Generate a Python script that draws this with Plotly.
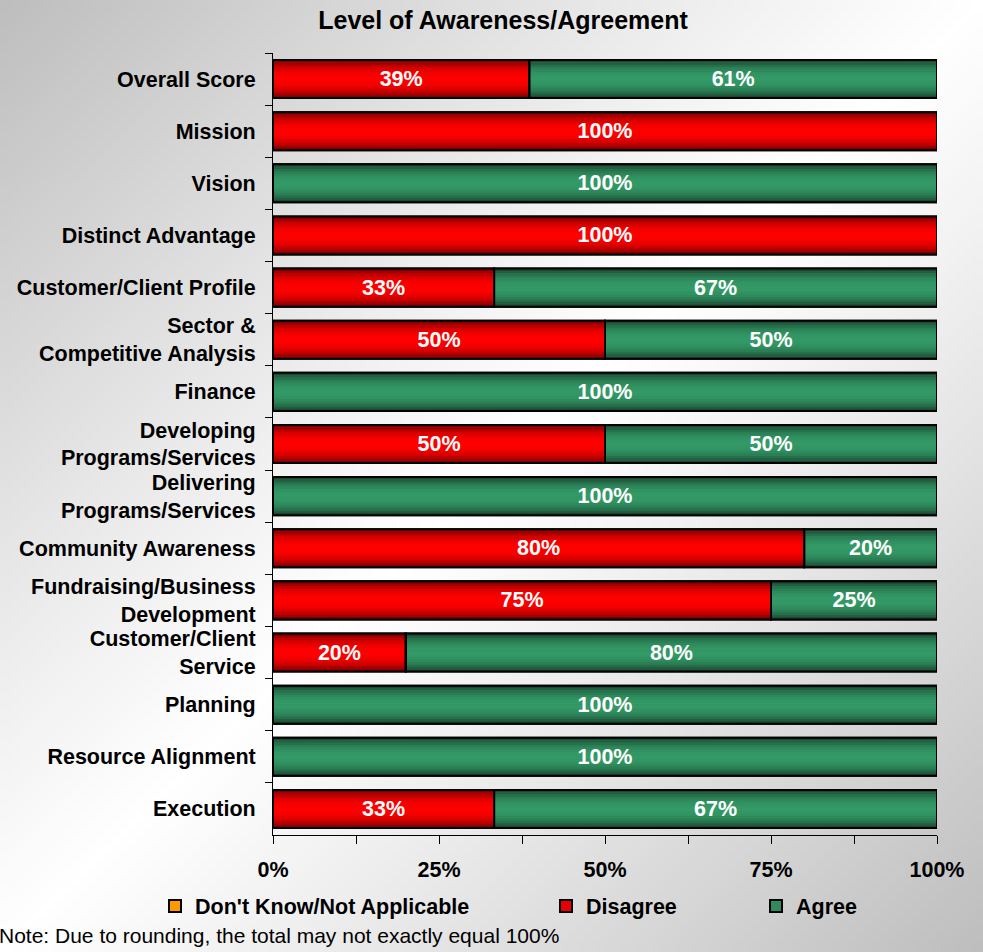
import base64, struct, zlib
import plotly.graph_objects as go

# ---------------- data ----------------
categories = [
    "Overall Score", "Mission", "Vision", "Distinct Advantage",
    "Customer/Client Profile", "Sector &<br>Competitive Analysis", "Finance",
    "Developing<br>Programs/Services", "Delivering<br>Programs/Services",
    "Community Awareness", "Fundraising/Business<br>Development",
    "Customer/Client<br>Service", "Planning", "Resource Alignment", "Execution",
]
dont_know = [0] * 15
disagree = [38.6, 100, 0, 100, 33.3, 50, 0, 50, 0, 80, 75, 20, 0, 0, 33.3]
agree = [61.4, 0, 100, 0, 66.7, 50, 100, 50, 100, 20, 25, 80, 100, 100, 66.7]
x_tick_vals = [0, 12.5, 25, 37.5, 50, 62.5, 75, 87.5, 100]
x_tick_text = ["0%", "", "25%", "", "50%", "", "75%", "", "100%"]

FONT = "Liberation Sans, Arial, sans-serif"
FS = 21.5
W, H = 983, 952
ML, MR, MT, MB = 273, 46, 53, 117
PW, PH = W - ML - MR, H - MT - MB


# ---------------- background gradient image ----------------
def gradient_png(n=120, dark=190):
    rows = []
    for j in range(n):
        row = bytearray([0])
        for i in range(n):
            t = (i / (n - 1) + j / (n - 1)) / 2
            d = abs(2 * t - 1)
            v = int(round(255 - (255 - dark) * d ** 1.1))
            row.append(v)
        rows.append(bytes(row))
    raw = b"".join(rows)

    def chunk(tag, data):
        c = struct.pack(">I", len(data)) + tag + data
        return c + struct.pack(">I", zlib.crc32(tag + data) & 0xFFFFFFFF)

    png = b"\x89PNG\r\n\x1a\n" + chunk(b"IHDR", struct.pack(">IIBBBBB", n, n, 8, 0, 0, 0, 0)) \
        + chunk(b"IDAT", zlib.compress(raw, 9)) + chunk(b"IEND", b"")
    return "data:image/png;base64," + base64.b64encode(png).decode()


fig = go.Figure()

BAR_W = 0.73
N_BANDS = 16


def lerp(c1, c2, f):
    return "rgb(%d,%d,%d)" % tuple(round(a + (b - a) * f) for a, b in zip(c1, c2))


series = [
    ("Disagree", disagree, [0] * 15, (105, 0, 0), (255, 0, 0), "legend2"),
    ("Agree", agree, disagree, (22, 60, 40), (51, 153, 102), "legend3"),
]

# Don't Know series (all zero values)
fig.add_trace(go.Bar(
    y=categories, x=dont_know, orientation="h", name="Don't Know/Not Applicable",
    marker=dict(color="#FF9900", line=dict(color="black", width=2)),
    width=BAR_W, legend="legend", hoverinfo="skip", textposition="none",
))

for name, vals, base, dark, bright, lg in series:
    fig.add_trace(go.Bar(
        y=categories, x=vals, base=base, orientation="h", name=name,
        marker=dict(color=lerp(dark, bright, 0.85), line=dict(color="black", width=2)),
        width=BAR_W, legend=lg, textposition="none",
    ))
    bw = BAR_W / N_BANDS
    for k in range(N_BANDS):
        u = (k + 0.5) / N_BANDS
        d = abs(2 * u - 1)
        f = 1 - d ** 2.2
        fig.add_trace(go.Bar(
            y=categories, x=vals, base=base, orientation="h",
            offset=-BAR_W / 2 + k * bw, width=bw * 1.08,
            marker=dict(color=lerp(dark, bright, f), line=dict(width=0)),
            showlegend=False, hoverinfo="skip", textposition="none",
        ))

for name, vals, base, dark, bright, lg in series:
    labels = ["%d%%" % round(v) if v > 0 else "" for v in vals]
    fig.add_trace(go.Bar(
        y=categories, x=vals, base=base, orientation="h",
        marker=dict(color="rgba(0,0,0,0)", line=dict(color="black", width=2)),
        width=BAR_W, showlegend=False, hoverinfo="skip",
        text=labels, textposition="inside", insidetextanchor="middle",
        textangle=0, constraintext="none",
        textfont=dict(family=FONT, size=FS, color="white", weight="bold"),
    ))

legend_common = dict(
    orientation="h", yanchor="middle", xanchor="left",
    font=dict(family=FONT, size=FS, color="black", weight="bold"),
    bgcolor="rgba(0,0,0,0)", itemwidth=30, y=-(906 - MT - PH) / PH,
)
fig.update_layout(
    width=W, height=H,
    margin=dict(l=ML, r=MR, t=MT, b=MB, pad=0),
    paper_bgcolor="white", plot_bgcolor="rgba(0,0,0,0)",
    barmode="overlay",
    title=dict(text="Level of Awareness/Agreement", x=503 / W, xanchor="center",
               y=1 - 20 / H, yanchor="middle",
               font=dict(family=FONT, size=25, color="black", weight="bold")),
    legend=dict(legend_common, x=(155 - ML) / PW),
    legend2=dict(legend_common, x=(546 - ML) / PW),
    legend3=dict(legend_common, x=(756 - ML) / PW),
    images=[dict(source=gradient_png(), xref="paper", yref="paper",
                 x=-ML / PW, y=1 + MT / PH, sizex=W / PW, sizey=H / PH,
                 xanchor="left", yanchor="top", sizing="stretch", layer="below")],
    annotations=[dict(text="Note: Due to rounding, the total may not exactly equal 100%",
                      xref="paper", yref="paper", x=(-3 - ML) / PW, xanchor="left",
                      y=-(935 - MT - PH) / PH, yanchor="middle", showarrow=False,
                      font=dict(family=FONT, size=21, color="black"))],
)
fig.update_yaxes(
    type="category", categoryorder="array", categoryarray=categories,
    autorange="reversed", showgrid=False, zeroline=False,
    showline=True, linecolor="black", linewidth=1,
    ticks="outside", tickson="boundaries", ticklen=7, tickcolor="black",
    ticklabelstandoff=12,
    tickfont=dict(family=FONT, size=FS, color="black", weight="bold"),
)
fig.update_xaxes(
    range=[0, 100], tickmode="array", tickvals=x_tick_vals, ticktext=x_tick_text,
    showgrid=False, zeroline=False, showline=True, linecolor="black", linewidth=1,
    ticks="outside", ticklen=8, tickcolor="black", ticklabelstandoff=7,
    tickfont=dict(family=FONT, size=FS, color="black", weight="bold"),
)

fig.write_html("out.html")
